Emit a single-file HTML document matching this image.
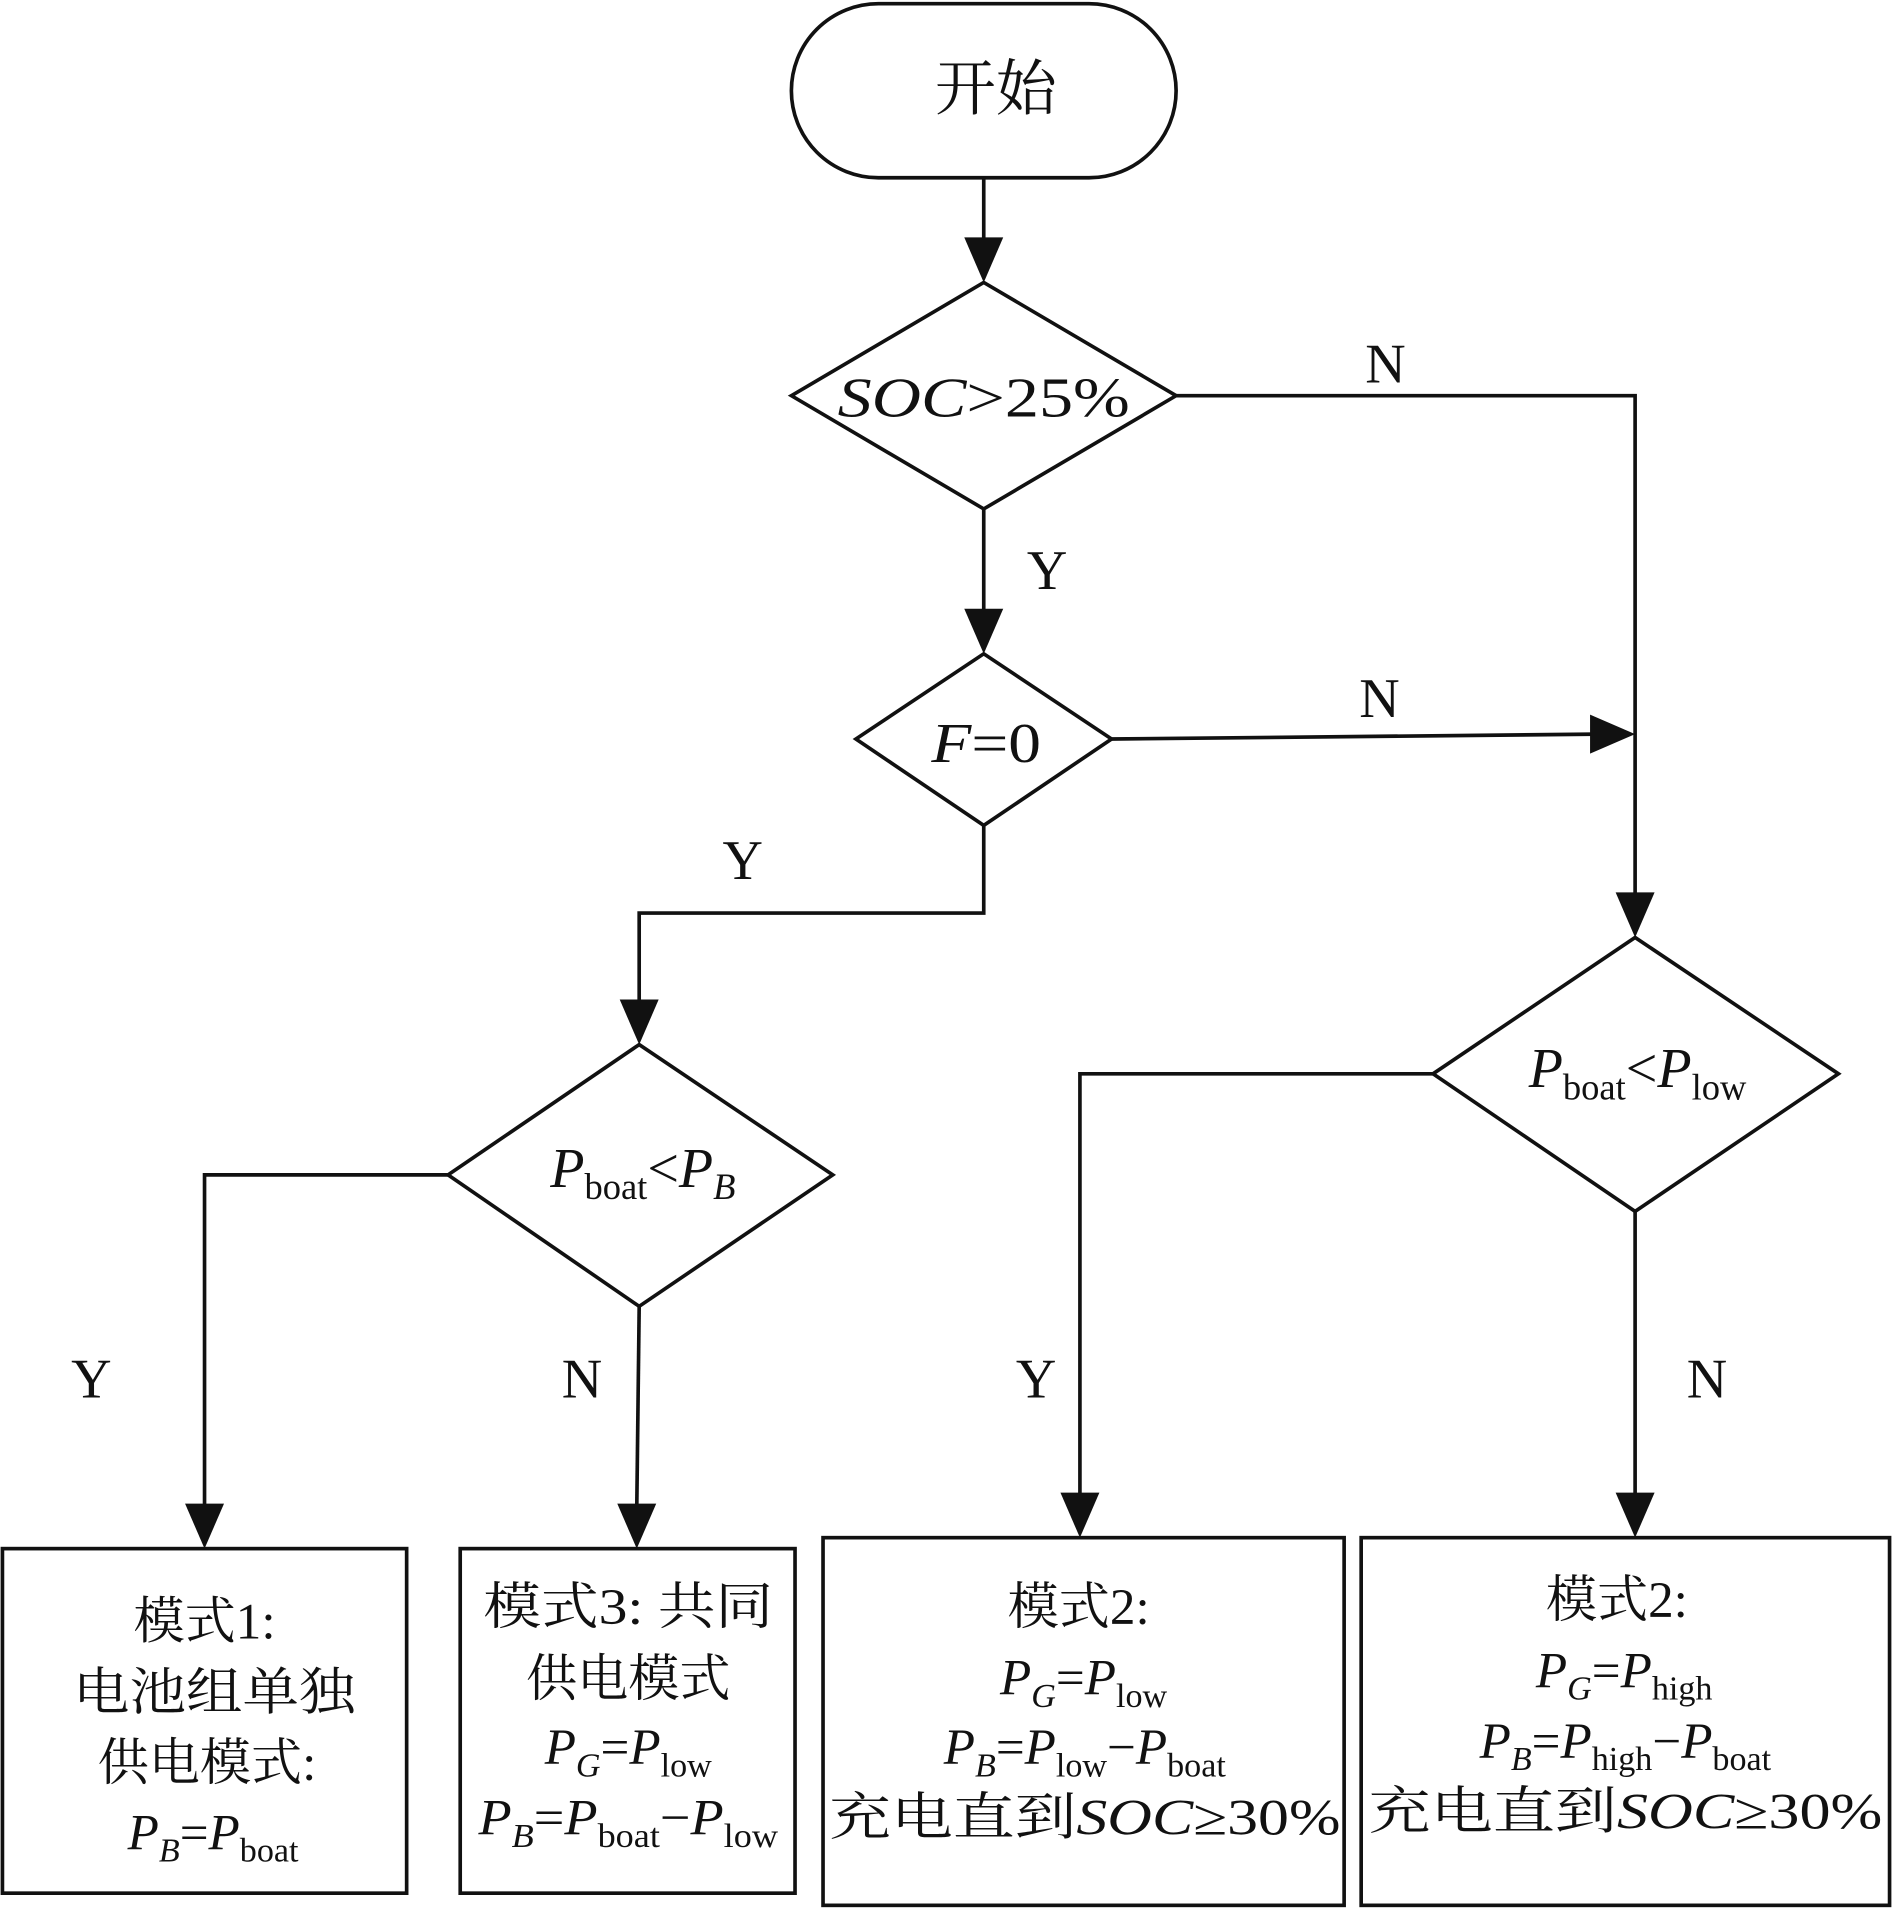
<!DOCTYPE html>
<html><head><meta charset="utf-8">
<style>
html,body{margin:0;padding:0;background:#fff;}
svg{display:block;}
text{font-family:"Liberation Serif","Noto Serif CJK SC",serif;fill:#111;}
.i{font-style:italic;}
</style></head>
<body>
<svg width="1892" height="1909" viewBox="0 0 1554 1568" preserveAspectRatio="none" xmlns="http://www.w3.org/2000/svg">
<defs>
<marker id="ah" markerWidth="32" markerHeight="36" refX="16" refY="36" orient="auto" markerUnits="userSpaceOnUse" viewBox="0 0 32 36">
</marker>
</defs>
<g fill="none" stroke="#111" stroke-width="3">
<rect x="650" y="3" width="316" height="143" rx="71.5"/>
<polygon points="650,325 808,232 966,325 808,418"/>
<polygon points="703,607 808,537 913,607 808,678"/>
<polygon points="368,965 525,858 684,965 525,1073"/>
<polygon points="1177,882 1343,770 1510,882 1343,995"/>
<rect x="2" y="1272" width="332" height="283"/>
<rect x="378" y="1272" width="275" height="283"/>
<rect x="676" y="1263" width="428" height="302"/>
<rect x="1118" y="1263" width="434" height="302"/>
<polyline points="808,146 808,200"/>
<polyline points="808,418 808,505"/>
<polyline points="966,325 1343,325 1343,738"/>
<polyline points="913,607 1312,603"/>
<polyline points="808,678 808,750 525,750 525,826"/>
<polyline points="368,965 168,965 168,1240"/>
<polyline points="525,1073 523,1240"/>
<polyline points="1177,882 887,882 887,1231"/>
<polyline points="1343,995 1343,1231"/>
</g>
<g fill="#111">
<polygon points="792,195 824,195 808,232"/>
<polygon points="792,500 824,500 808,537"/>
<polygon points="1327,733 1359,733 1343,770"/>
<polygon points="1306,587 1306,619 1343,603"/>
<polygon points="509,821 541,821 525,858"/>
<polygon points="152,1235 184,1235 168,1272"/>
<polygon points="507,1235 539,1235 523,1272"/>
<polygon points="871,1226 903,1226 887,1263"/>
<polygon points="1327,1226 1359,1226 1343,1263"/>
</g>
<g font-size="46">
<text x="818" y="90" text-anchor="middle" font-size="50">开始</text>
<text x="808" y="342" text-anchor="middle" textLength="240" lengthAdjust="spacingAndGlyphs"><tspan class="i">SOC</tspan>&gt;25%</text>
<text x="810" y="626" text-anchor="middle" textLength="90" lengthAdjust="spacingAndGlyphs"><tspan class="i">F</tspan>=0</text>
<text x="1138" y="314" text-anchor="middle">N</text>
<text x="860" y="484" text-anchor="middle">Y</text>
<text x="1133" y="589" text-anchor="middle">N</text>
<text x="610" y="722" text-anchor="middle">Y</text>
<text x="75" y="1148" text-anchor="middle">Y</text>
<text x="478" y="1148" text-anchor="middle">N</text>
<text x="851" y="1148" text-anchor="middle">Y</text>
<text x="1402" y="1148" text-anchor="middle">N</text>
<text x="528" y="975" text-anchor="middle"><tspan class="i">P</tspan><tspan font-size="30" dy="10">boat</tspan><tspan dy="-10">&lt;</tspan><tspan class="i">P</tspan><tspan class="i" font-size="30" dy="10">B</tspan></text>
<text x="1345" y="893" text-anchor="middle"><tspan class="i">P</tspan><tspan font-size="30" dy="10">boat</tspan><tspan dy="-10">&lt;</tspan><tspan class="i">P</tspan><tspan font-size="30" dy="10">low</tspan></text>
</g>
<g font-size="42" text-anchor="middle">
<text x="168" y="1346">模式1:</text>
<text x="176" y="1404" textLength="232" lengthAdjust="spacingAndGlyphs">电池组单独</text>
<text x="170" y="1462">供电模式:</text>
<text x="175" y="1519"><tspan class="i">P</tspan><tspan class="i" font-size="28" dy="10">B</tspan><tspan dy="-10">=</tspan><tspan class="i">P</tspan><tspan font-size="28" dy="10">boat</tspan></text>

<text x="516" y="1334" textLength="238" lengthAdjust="spacingAndGlyphs">模式3: 共同</text>
<text x="516" y="1393">供电模式</text>
<text x="516" y="1449"><tspan class="i">P</tspan><tspan class="i" font-size="28" dy="10">G</tspan><tspan dy="-10">=</tspan><tspan class="i">P</tspan><tspan font-size="28" dy="10">low</tspan></text>
<text x="516" y="1507" textLength="246" lengthAdjust="spacingAndGlyphs"><tspan class="i">P</tspan><tspan class="i" font-size="28" dy="10">B</tspan><tspan dy="-10">=</tspan><tspan class="i">P</tspan><tspan font-size="28" dy="10">boat</tspan><tspan dy="-10">−</tspan><tspan class="i">P</tspan><tspan font-size="28" dy="10">low</tspan></text>

<text x="886" y="1334">模式2:</text>
<text x="890" y="1392"><tspan class="i">P</tspan><tspan class="i" font-size="28" dy="10">G</tspan><tspan dy="-10">=</tspan><tspan class="i">P</tspan><tspan font-size="28" dy="10">low</tspan></text>
<text x="891" y="1449"><tspan class="i">P</tspan><tspan class="i" font-size="28" dy="10">B</tspan><tspan dy="-10">=</tspan><tspan class="i">P</tspan><tspan font-size="28" dy="10">low</tspan><tspan dy="-10">−</tspan><tspan class="i">P</tspan><tspan font-size="28" dy="10">boat</tspan></text>
<text x="891" y="1507" textLength="420" lengthAdjust="spacingAndGlyphs">充电直到<tspan class="i">SOC</tspan>≥30%</text>

<text x="1328" y="1328">模式2:</text>
<text x="1334" y="1386"><tspan class="i">P</tspan><tspan class="i" font-size="28" dy="10">G</tspan><tspan dy="-10">=</tspan><tspan class="i">P</tspan><tspan font-size="28" dy="10">high</tspan></text>
<text x="1335" y="1444"><tspan class="i">P</tspan><tspan class="i" font-size="28" dy="10">B</tspan><tspan dy="-10">=</tspan><tspan class="i">P</tspan><tspan font-size="28" dy="10">high</tspan><tspan dy="-10">−</tspan><tspan class="i">P</tspan><tspan font-size="28" dy="10">boat</tspan></text>
<text x="1335" y="1502" textLength="422" lengthAdjust="spacingAndGlyphs">充电直到<tspan class="i">SOC</tspan>≥30%</text>
</g>
</svg>
</body></html>
